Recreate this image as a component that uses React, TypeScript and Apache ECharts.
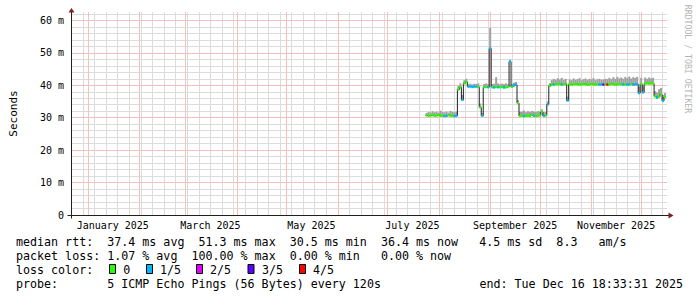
import React, { useEffect, useRef } from 'react';
import * as echarts from 'echarts';

// ---- time frame ----
const END_MS = Date.UTC(2025, 11, 16, 18, 33, 31);
const DAY_MS = 86400000;
const START_MS = END_MS - 360 * DAY_MS;
const SAMPLE_START_MS = Date.UTC(2025, 6, 23, 23, 21);
const STEP_MS = 1.2 * DAY_MS;

// ---- data (ms) ----
const medianMs = [
  30.7, 30.6, 30.7, 30.8, 30.6, 30.7, 30.8, 30.6, 30.6, 30.5, 30.6, 30.8, 30.6, 30.6, 30.5, 30.6,
  38.7, 39.4, 35.5, 40.6, 41.0, 39.6, 39.6, 39.5, 39.6, 39.6, 39.5, 33.2, 30.6, 39.4, 39.5, 39.4, 51.3,
  39.4, 39.3, 39.5, 39.4, 39.4, 39.5, 39.3, 39.4, 39.5, 47.3, 39.5, 40.0, 40.2, 34.5,
  30.5, 30.6, 30.5, 30.6, 30.6, 30.5, 30.9, 30.6, 30.5, 30.6, 30.7, 31.8, 30.6, 30.7,
  34.1, 39.8, 40.3, 40.2, 40.4, 40.3, 40.4, 40.2, 40.3, 40.4, 35.3, 40.3,
  40.2, 40.3, 40.4, 40.3, 40.2, 40.3, 40.4, 40.3, 40.2, 40.3, 40.4, 40.3, 40.2, 40.3, 40.2, 40.3, 40.2, 40.3, 40.2,
  40.3, 40.4, 40.3, 40.2, 40.3, 40.4, 40.3, 40.2, 40.3, 40.2, 40.3, 40.4, 40.2, 40.3, 40.3,
  37.6, 40.4, 37.8, 40.5, 40.6, 40.5, 40.6, 40.5,
  36.6, 36.2, 36.5, 37.2, 35.2, 36.4,
];
const maxMs = [
  31.5, 31.8, 31.6, 32.0, 31.7, 31.9, 31.6, 32.2, 31.8, 31.7, 31.9, 31.6, 32.1, 31.8, 31.7, 31.9,
  39.8, 40.6, 37.0, 41.6, 42.0, 40.4, 40.5, 40.3, 40.5, 40.4, 40.6, 34.4, 31.5, 40.4, 40.6, 40.3, 57.7,
  40.4, 40.5, 42.5, 40.6, 40.3, 40.5, 40.4, 40.6, 40.3, 47.9, 40.4, 40.8, 41.0, 35.5,
  31.8, 31.9, 32.2, 31.7, 32.0, 31.8, 32.1, 31.9, 31.8, 32.0, 31.9, 32.6, 31.8, 31.7,
  35.0, 40.6, 41.6, 42.0, 41.7, 42.2, 41.8, 42.3, 41.7, 42.0, 36.5, 41.8,
  41.6, 42.1, 41.7, 41.9, 42.2, 41.6, 41.9, 42.1, 41.7, 42.0, 41.8, 42.2, 41.6, 41.9, 42.0, 41.7, 41.8, 42.0, 41.9,
  42.3, 41.9, 42.5, 42.0, 42.6, 42.1, 42.4, 42.0, 42.6, 42.2, 42.7, 42.1, 42.5, 42.3, 42.6,
  39.5, 42.3, 39.8, 42.4, 42.0, 42.4, 42.1, 42.3,
  38.2, 37.8, 38.8, 39.2, 37.0, 37.6,
];
const lossCount = [
  0, 0, 0, 0, 0, 0, 0, 0, 0, 1, 1, 0, 0, 0, 1, 1,
  0, 0, 1, 0, 0, 1, 1, 1, 1, 1, 0, 0, 1, 0, 0, 1, 1,
  0, 1, 0, 1, 0, 0, 1, 0, 0, 1, 0, 1, 1, 0,
  0, 0, 1, 0, 0, 0, 0, 1, 0, 0, 0, 0, 1, 0,
  1, 0, 0, 1, 0, 0, 0, 1, 0, 0, 1, 0,
  0, 0, 0, 0, 0, 0, 0, 0, 0, 0, 0, 0, 0, 0, 1, 1, 3, 0, 4,
  0, 0, 0, 0, 0, 0, 0, 1, 0, 1, 1, 0, 1, 1, 1,
  1, 0, 1, 0, 0, 0, 0, 0,
  0, 1, 0, 0, 1, 0,
];

// ---- axis / legend texts ----
const MONTH_NAMES = ['January', 'February', 'March', 'April', 'May', 'June', 'July', 'August', 'September', 'October', 'November', 'December'];
const monthLabelValues = [0, 2, 4, 6, 8, 10].map((m) => Date.UTC(2025, m, 1) + 15 * DAY_MS);
const monthStarts = [0, 1, 2, 3, 4, 5, 6, 7, 8, 9, 10, 11].map((m) => Date.UTC(2025, m, 1));
const weekStarts: number[] = [];
for (let t = Date.UTC(2024, 11, 22); t <= END_MS; t += 7 * DAY_MS) weekStarts.push(t);
const yMinorValues = [2, 4, 6, 8, 12, 14, 16, 18, 22, 24, 26, 28, 32, 34, 36, 38, 42, 44, 46, 48, 52, 54, 56, 58, 62];
const yMajorValues = [10, 20, 30, 40, 50, 60];

const lossLabels = ['0', '1/5', '2/5', '3/5', '4/5'];
const lossColors = ['#26ff00', '#00b8ff', '#dd00ff', '#5e00ff', '#ff0000'];
const legendLines = [
  'median rtt:  37.4 ms avg  51.3 ms max  30.5 ms min  36.4 ms now   4.5 ms sd  8.3   am/s',
  'packet loss: 1.07 % avg  100.00 % max  0.00 % min   0.00 % now',
  'loss color:',
  'probe:       5 ICMP Echo Pings (56 Bytes) every 120s',
];
const endText = 'end: Tue Dec 16 18:33:31 2025';
const watermark = 'RRDTOOL / TOBI OETIKER';

const MONO = '"DejaVu Sans Mono", monospace';
const SMOKE = '#a0a0a0';
const GRID_MINOR = '#dcdcdc';
const GRID_MAJOR = '#f2c0c0';
const AXIS = '#1f1f1f';
const ARROW = '#801f1f';

const nb = (s: string) => s.replace(/ /g, '\u00a0');

function buildOption() {
  const samples = medianMs.map((m, i) => [SAMPLE_START_MS + i * STEP_MS, m, maxMs[i], lossCount[i]]);

  const solid = (color: string) => ({ color, width: 1, type: 'solid', opacity: 1 });
  const gridMarkData: any[] = [
    ...weekStarts.map((t) => ({ xAxis: t, lineStyle: solid(GRID_MINOR) })),
    ...yMinorValues.map((v) => ({ yAxis: v, lineStyle: solid(GRID_MINOR) })),
    ...monthStarts.map((t) => ({ xAxis: t, lineStyle: solid(GRID_MAJOR) })),
    ...yMajorValues.map((v) => ({ yAxis: v, lineStyle: solid(GRID_MAJOR) })),
  ];

  const graphics: any[] = [];
  const legendFont = `11.66px ${MONO}`;
  const colW = 7.02;
  const lineY = [241.5, 255.5, 269.5, 283.5];
  legendLines.forEach((s, i) => {
    graphics.push({
      type: 'text', x: 16, y: lineY[i], silent: true,
      style: { text: nb(s), font: legendFont, fill: '#000', align: 'left', verticalAlign: 'middle', textAlign: 'left', textVerticalAlign: 'middle' },
    });
  });
  const boxX = [109, 146, 196, 247.5, 299];
  const boxLabelX = [123.3, 160, 210, 262, 313];
  lossLabels.forEach((lab, i) => {
    graphics.push({
      type: 'rect', silent: true,
      shape: { x: boxX[i] + 0.5, y: 264.5, width: 6, height: 9 },
      style: { fill: lossColors[i], stroke: '#000', lineWidth: 1 },
    });
    graphics.push({
      type: 'text', x: boxLabelX[i], y: lineY[2], silent: true,
      style: { text: lab, font: legendFont, fill: '#000', align: 'left', verticalAlign: 'middle', textAlign: 'left', textVerticalAlign: 'middle' },
    });
  });
  graphics.push({
    type: 'text', x: 16 + 95 * colW + 0.1, y: lineY[3], silent: true,
    style: { text: nb(endText), font: legendFont, fill: '#000', align: 'right', verticalAlign: 'middle', textAlign: 'right', textVerticalAlign: 'middle' },
  });
  graphics.push({
    type: 'text', x: 688, y: 59, rotation: -Math.PI / 2, silent: true,
    style: { text: nb(watermark), font: `8.2px ${MONO}`, fill: '#b4b4b4', align: 'center', verticalAlign: 'middle', textAlign: 'center', textVerticalAlign: 'middle' },
  });

  return {
    animation: false,
    backgroundColor: '#ffffff',
    grid: { left: 67, right: 30, top: 12, bottom: 82, containLabel: false },
    xAxis: {
      type: 'value',
      min: START_MS,
      max: END_MS,
      axisLine: { show: false },
      axisTick: { show: false },
      splitLine: { show: false },
      minorSplitLine: { show: false },
      axisLabel: {
        customValues: monthLabelValues,
        margin: 5,
        fontFamily: MONO,
        fontSize: 10,
        color: '#000',
        formatter: (v: number) => {
          const d = new Date(v);
          return `${MONTH_NAMES[d.getUTCMonth()]} ${d.getUTCFullYear()}`;
        },
      },
    },
    yAxis: {
      type: 'value',
      min: 0,
      max: 62.6,
      interval: 10,
      name: 'Seconds',
      nameLocation: 'middle',
      nameRotate: 90,
      nameGap: 52,
      nameTextStyle: { fontFamily: MONO, fontSize: 11, color: '#000' },
      axisLine: { show: false },
      axisTick: { show: false },
      splitLine: { show: false },
      axisLabel: {
        margin: 7,
        fontFamily: MONO,
        fontSize: 10,
        color: '#000',
        formatter: (v: number) => {
          if (Math.abs(v % 10) > 1e-6) return '';
          return v === 0 ? '0' : `${v} m`;
        },
      },
    },
    graphic: graphics,
    series: [
      {
        type: 'line',
        name: 'grid',
        silent: true,
        z: 1,
        symbol: 'none',
        data: [[START_MS, 0]],
        lineStyle: { width: 0 },
        markLine: {
          silent: true,
          z: 1,
          symbol: ['none', 'none'],
          label: { show: false },
          emphasis: { disabled: true },
          animation: false,
          data: gridMarkData,
        },
      },
      {
        type: 'custom',
        name: 'smoke',
        silent: true,
        z: 2,
        data: samples,
        encode: { x: 0, y: [1, 2] },
        renderItem: (params: any, api: any) => {
          const t = api.value(0);
          const a = api.coord([t, api.value(2)]);
          const b = api.coord([t + STEP_MS, api.value(1)]);
          return {
            type: 'rect',
            shape: { x: a[0], y: a[1], width: b[0] - a[0], height: b[1] - a[1] },
            style: { fill: SMOKE },
          };
        },
      },
      {
        type: 'line',
        name: 'median',
        silent: true,
        z: 3,
        step: 'end',
        symbol: 'none',
        showSymbol: false,
        data: samples.map((s) => [s[0], s[1]]),
        lineStyle: { color: '#202020', width: 1 },
      },
      {
        type: 'custom',
        name: 'loss',
        silent: true,
        z: 4,
        data: samples,
        encode: { x: 0, y: 1 },
        renderItem: (params: any, api: any) => {
          const t = api.value(0);
          const m = api.value(1);
          const a = api.coord([t, m]);
          const b = api.coord([t + STEP_MS, m]);
          return {
            type: 'rect',
            shape: { x: a[0], y: a[1] - 1.2, width: b[0] - a[0], height: 2.4 },
            style: { fill: lossColors[api.value(3)] },
          };
        },
      },
      {
        type: 'custom',
        name: 'frame',
        silent: true,
        z: 5,
        clip: false,
        data: [[START_MS, 0]],
        encode: { x: 0, y: 1 },
        renderItem: (params: any, api: any) => {
          const cs = params.coordSys;
          const o = api.coord([START_MS, 0]);
          const x0 = Math.round(o[0]) + 0.5;
          const yb = Math.round(o[1]) + 0.5;
          const top = cs.y;
          const right = cs.x + cs.width;
          return {
            type: 'group',
            children: [
              { type: 'line', shape: { x1: x0, y1: yb + 3, x2: x0, y2: top }, style: { stroke: AXIS, lineWidth: 1 } },
              { type: 'line', shape: { x1: x0 - 4, y1: yb, x2: right + 2, y2: yb }, style: { stroke: AXIS, lineWidth: 1 } },
              { type: 'polygon', shape: { points: [[x0 - 3, top + 0.5], [x0 + 3, top + 0.5], [x0, top - 4]] }, style: { fill: ARROW } },
              { type: 'polygon', shape: { points: [[right + 1.5, yb - 3], [right + 1.5, yb + 3], [right + 6.5, yb]] }, style: { fill: ARROW } },
            ],
          };
        },
      },
    ],
  };
}

export default function App() {
  const ref = useRef<HTMLDivElement>(null);
  useEffect(() => {
    if (!ref.current) return;
    const chart = echarts.init(ref.current, null, { renderer: 'svg' });
    chart.setOption(buildOption() as any);
    return () => chart.dispose();
  }, []);
  return (
    <div
      ref={ref}
      style={{ position: 'fixed', left: 0, top: 0, width: 697, height: 297, background: '#ffffff' }}
    />
  );
}
